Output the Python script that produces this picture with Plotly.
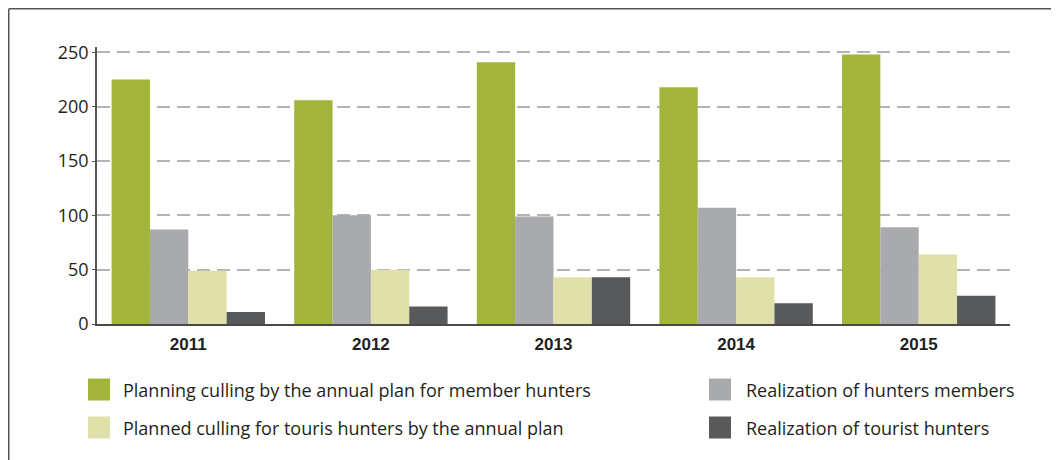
import plotly.graph_objects as go

years = ["2011", "2012", "2013", "2014", "2015"]
plan_members = [225, 206, 241, 218, 248]
real_members = [87, 100, 99, 107, 89]
plan_tourist = [49, 50, 43, 43, 64]
real_tourist = [11, 16, 43, 19, 26]

series_names = [
    "Planning culling by the annual plan for member hunters",
    "Realization of hunters members",
    "Planned culling for touris hunters by the annual plan",
    "Realization of tourist hunters",
]
series_values = [plan_members, real_members, plan_tourist, real_tourist]
colors = ["#a3b43b", "#a9aaad", "#e0e0aa", "#58595b"]

# the page body adds an 8px margin at top/left, so the figure is shifted by 8px
OFF = 8
W, H = 1059 - OFF, 460 - OFF
ML, MR, MT, MB = 97 - OFF, 49, 47 - OFF, 136
PW, PH = W - ML - MR, H - MT - MB


def px(x):  # page pixel -> paper
    return (x - OFF - ML) / PW


def py(y):
    return (H - MB - (y - OFF)) / PH


fig = go.Figure()
for name, vals, col in zip(series_names, series_values, colors):
    fig.add_trace(go.Bar(x=years, y=vals, name=name, marker=dict(color=col, line=dict(width=0)),
                         showlegend=False))

shapes = []
annotations = []
legend_pos = [(88, 389.5, 123), (709, 389.5, 746), (88, 427.5, 123), (709, 427.5, 746)]
for (sx, cy, tx), name, col in zip(legend_pos, series_names, colors):
    shapes.append(dict(type="rect", xref="paper", yref="paper",
                       x0=px(sx), x1=px(sx + 22), y0=py(cy - 11), y1=py(cy + 11),
                       fillcolor=col, line=dict(width=0)))
    annotations.append(dict(xref="paper", yref="paper", x=px(tx - 2), y=py(cy),
                            xanchor="left", yanchor="middle", text=name, showarrow=False,
                            font=dict(family="Open Sans", size=18, color="#231f20")))

# outer frame (top and left edges)
shapes.append(dict(type="line", xref="paper", yref="paper", x0=px(8.75), x1=px(1059), y0=py(8.75), y1=py(8.75),
                   line=dict(color="#555555", width=1.5)))
shapes.append(dict(type="line", xref="paper", yref="paper", x0=px(8.75), x1=px(8.75), y0=py(8.75), y1=py(460),
                   line=dict(color="#555555", width=1.5)))

fig.update_layout(
    width=W, height=H,
    margin=dict(l=ML, r=MR, t=MT, b=MB),
    paper_bgcolor="white", plot_bgcolor="white",
    barmode="group", bargap=0.16, bargroupgap=0,
    shapes=shapes, annotations=annotations,
    showlegend=False,
    xaxis=dict(showline=True, linecolor="#4a4a4a", linewidth=2, ticks="",
               tickfont=dict(family="Liberation Sans", size=17, color="#231f20", weight="bold"),
               ticklabelstandoff=4, showgrid=False, zeroline=False),
    yaxis=dict(range=[0, 255], tickvals=[0, 50, 100, 150, 200, 250], showline=True,
               linecolor="#555555", linewidth=1.5, ticks="outside", ticklen=3, tickcolor="#555555",
               tickfont=dict(family="Open Sans", size=18, color="#231f20"),
               showgrid=True, gridcolor="#b3b3b3", gridwidth=1.5, griddash="13px,7px",
               zeroline=False),
)

fig.write_html("out.html")
